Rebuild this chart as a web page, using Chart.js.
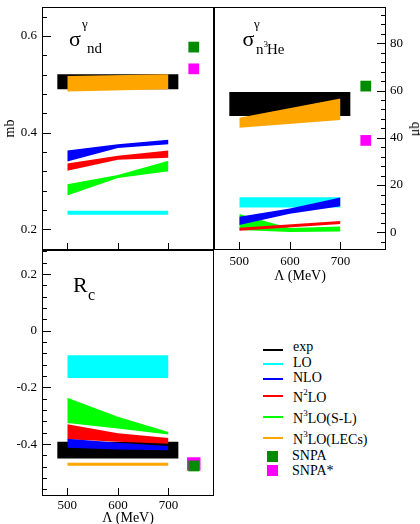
<!DOCTYPE html>
<html>
<head>
<meta charset="utf-8">
<script src="https://cdn.jsdelivr.net/npm/chart.js@4.4.1/dist/chart.umd.min.js"></script>
<style>
  html, body { margin: 0; padding: 0; background: #fff; overflow: hidden; }
  body { width: 420px; height: 524px; position: relative; }
  canvas { position: absolute; }
  .lbl { position: absolute; line-height: 1; font-family: "Liberation Serif", "Times New Roman", serif; white-space: nowrap; color: #000; }
  .lbl .up { position: relative; font-size: 9px; top: -7px; }
  .sw { position: absolute; }
</style>
</head>
<body>
<canvas id="ndChart" width="214" height="251" style="left:0;top:0"></canvas>
<canvas id="heChart" width="220" height="285" style="left:200px;top:0"></canvas>
<canvas id="rcChart" width="214" height="287" style="left:0;top:240px"></canvas>
<script>
Chart.defaults.font.family = '"Liberation Serif", "Times New Roman", serif';
Chart.defaults.font.size = 13;
Chart.defaults.color = '#000';

// cutoff axis (MeV)
const lambdaMin = 450, lambdaMax = 790;
const lambdaTicks = [500, 600, 700];
const lambda3 = [500, 600, 700];
const lambda2 = [500, 700];
const expSpan = [480, 720];
const snpaLambda = 750;

// sigma(n d), mb
const ndTicks = [0.2, 0.4, 0.6];
const ndExpLow = [0.490, 0.490], ndExpHigh = [0.521, 0.521];
const ndLOLow = [0.230, 0.230], ndLOHigh = [0.238, 0.238];
const ndNLOLow = [0.340, 0.368, 0.376], ndNLOHigh = [0.363, 0.376, 0.385];
const ndN2LOLow = [0.321, 0.344, 0.348], ndN2LOHigh = [0.336, 0.352, 0.363];
const ndN3LOLow = [0.270, 0.306, 0.320], ndN3LOHigh = [0.293, 0.312, 0.342];
const ndLECsLow = [0.485, 0.490], ndLECsHigh = [0.517, 0.521];
const ndSNPA = 0.577, ndSNPAstar = 0.532;

// sigma(n 3He), microbarn
const heTicks = [0, 20, 40, 60, 80];
const heExpLow = [49.2, 49.2], heExpHigh = [59.4, 59.4];
const heLOLow = [10.5, 10.5], heLOHigh = [14.8, 14.8];
const heNLOLow = [3.1, 7.9, 11.0], heNLOHigh = [6.6, 10.1, 14.7];
const heN2LOLow = [0.6, 3.5], heN2LOHigh = [1.9, 4.8];
const heN3LOLow = [1.0, 0.1, 0.3], heN3LOHigh = [7.7, 1.8, 2.4];
const heLECsLow = [44.3, 47.5], heLECsHigh = [48.5, 56.7];
const heSNPA = 61.9, heSNPAstar = 38.9;

// R_c
const rcTicks = [-0.4, -0.2, 0, 0.2];
const rcExpLow = [-0.451, -0.451], rcExpHigh = [-0.392, -0.392];
const rcLOLow = [-0.167, -0.167], rcLOHigh = [-0.086, -0.086];
const rcNLOLow = [-0.413, -0.419, -0.422], rcNLOHigh = [-0.381, -0.395, -0.407];
const rcN2LOLow = [-0.383, -0.392, -0.399], rcN2LOHigh = [-0.330, -0.362, -0.378];
const rcN3LOLow = [-0.325, -0.345, -0.366], rcN3LOHigh = [-0.236, -0.303, -0.357];
const rcLECsLow = [-0.476, -0.476], rcLECsHigh = [-0.466, -0.466];
const rcSNPA = -0.477, rcSNPAstar = -0.470;

const cExp = '#000000', cLO = '#00ffff', cNLO = '#0000ff', cN2LO = '#ff0000';
const cN3LO = '#00ff00', cLECs = '#ffa500', cSNPA = '#008b00', cSNPAstar = '#ff00ff';

const legendLabels = ['exp', 'LO', 'NLO', 'N<span class="up">2</span>LO', 'N<span class="up">3</span>LO(S-L)',
  'N<span class="up">3</span>LO(LECs)', 'SNPA', 'SNPA*'];
const legendColors = [cExp, cLO, cNLO, cN2LO, cN3LO, cLECs, cSNPA, cSNPAstar];

// band = lower edge + upper edge filled down to it
function band(xs, low, high, color, order) {
  const pts = ys => xs.map((x, i) => ({ x, y: ys[i] }));
  const base = { borderWidth: 0, pointRadius: 0, order };
  return [
    { ...base, data: pts(low), fill: false },
    { ...base, data: pts(high), fill: '-1', backgroundColor: color }
  ];
}

function marker(y, color, radius, order) {
  return { data: [{ x: snpaLambda, y }], showLine: false, pointStyle: 'rect', pointRadius: radius,
    backgroundColor: color, borderWidth: 0, order };
}

// frame box with inward ticks, xmgrace style
const frame = {
  id: 'frame',
  afterDatasetsDraw(chart, args, opts) {
    const { ctx, chartArea: a } = chart;
    ctx.save();
    ctx.strokeStyle = '#000';
    ctx.lineWidth = 1;
    ctx.strokeRect(a.left + 0.5, a.top + 0.5, a.right - a.left - 1, a.bottom - a.top - 1);
    ctx.beginPath();
    (opts.edges || []).forEach(e => {
      const s = chart.scales[e.scale];
      const step = e.minor || e.major;
      for (let k = Math.ceil(s.min / step - 1e-9); k * step <= s.max + 1e-9; k++) {
        const v = k * step;
        const r = v / e.major;
        const len = Math.abs(r - Math.round(r)) < 1e-6 ? e.len[0] : e.len[1];
        const p = Math.round(s.getPixelForValue(v)) + 0.5;
        if (e.side === 'left') { ctx.moveTo(a.left, p); ctx.lineTo(a.left + len, p); }
        if (e.side === 'right') { ctx.moveTo(a.right, p); ctx.lineTo(a.right - len, p); }
        if (e.side === 'bottom') { ctx.moveTo(p, a.bottom); ctx.lineTo(p, a.bottom - len); }
      }
    });
    ctx.stroke();
    ctx.restore();
  }
};

function sized(prop, value) {
  return scale => {
    scale[prop] = value;
    scale.paddingLeft = scale.paddingRight = scale.paddingTop = scale.paddingBottom = 0;
  };
}

function fixedTicks(values) {
  return scale => { scale.ticks = values.map(value => ({ value })); };
}

const bare = { grid: { display: false, drawTicks: false }, border: { display: false } };

function xAxis(showLabels, height, pad) {
  return {
    type: 'linear', min: lambdaMin, max: lambdaMax, ...bare,
    afterBuildTicks: fixedTicks(lambdaTicks),
    ticks: { display: showLabels, padding: pad, maxRotation: 0, autoSkip: false, callback: v => String(v) },
    title: { display: showLabels, text: 'Λ (MeV)', font: { size: 14 }, padding: 0 },
    afterFit: sized('height', height)
  };
}

function yAxis(position, min, max, labels, width, title) {
  return {
    type: 'linear', position, min, max, ...bare,
    afterBuildTicks: fixedTicks(labels),
    ticks: { padding: position === 'left' ? 5 : 4, autoSkip: false, callback: v => String(v) },
    title: { display: !!title, text: title || '', font: { size: 14 }, padding: { top: 2, bottom: 0 } },
    afterFit: sized('width', width)
  };
}

function makeChart(id, datasets, padding, scales, edges) {
  return new Chart(document.getElementById(id), {
    type: 'line',
    data: { datasets },
    options: {
      responsive: false, animation: false, events: [],
      layout: { padding, autoPadding: false },
      plugins: { legend: { display: false }, tooltip: { enabled: false }, frame: { edges } },
      scales
    },
    plugins: [frame]
  });
}

makeChart('ndChart', [
  ...band(expSpan, ndExpLow, ndExpHigh, cExp, 8),
  ...band(lambda2, ndLOLow, ndLOHigh, cLO, 7),
  ...band(lambda3, ndN3LOLow, ndN3LOHigh, cN3LO, 6),
  ...band(lambda3, ndN2LOLow, ndN2LOHigh, cN2LO, 5),
  ...band(lambda3, ndNLOLow, ndNLOHigh, cNLO, 4),
  ...band(lambda2, ndLECsLow, ndLECsHigh, cLECs, 3),
  marker(ndSNPAstar, cSNPAstar, 7.6, 2),
  marker(ndSNPA, cSNPA, 7.6, 1)
], { top: 7, right: 0, bottom: 1, left: 0 }, {
  x: xAxis(false, 0, 0),
  y: yAxis('left', 0.157, 0.66, ndTicks, 42, 'mb')
}, [
  { scale: 'y', side: 'left', major: 0.2, minor: 0.04, len: [9, 5] },
  { scale: 'x', side: 'bottom', major: 100, len: [7, 4] }
]);

makeChart('heChart', [
  ...band(expSpan, heExpLow, heExpHigh, cExp, 8),
  ...band(lambda2, heLOLow, heLOHigh, cLO, 7),
  ...band(lambda3, heN3LOLow, heN3LOHigh, cN3LO, 6),
  ...band(lambda2, heN2LOLow, heN2LOHigh, cN2LO, 5),
  ...band(lambda3, heNLOLow, heNLOHigh, cNLO, 4),
  ...band(lambda2, heLECsLow, heLECsHigh, cLECs, 3),
  marker(heSNPAstar, cSNPAstar, 7.6, 2),
  marker(heSNPA, cSNPA, 7.6, 1)
], { top: 7, right: 0, bottom: 0, left: 14 }, {
  x: xAxis(true, 35, 4),
  y: yAxis('right', -7.5, 95.4, heTicks, 34, '')
}, [
  { scale: 'y', side: 'right', major: 20, minor: 4, len: [9, 5] },
  { scale: 'x', side: 'bottom', major: 100, len: [8, 4] }
]);

makeChart('rcChart', [
  ...band(expSpan, rcExpLow, rcExpHigh, cExp, 8),
  ...band(lambda2, rcLOLow, rcLOHigh, cLO, 7),
  ...band(lambda3, rcN3LOLow, rcN3LOHigh, cN3LO, 6),
  ...band(lambda3, rcN2LOLow, rcN2LOHigh, cN2LO, 5),
  ...band(lambda3, rcNLOLow, rcNLOHigh, cNLO, 4),
  ...band(lambda2, rcLECsLow, rcLECsHigh, cLECs, 3),
  marker(rcSNPAstar, cSNPAstar, 9.5, 2),
  marker(rcSNPA, cSNPA, 7.6, 1)
], { top: 10, right: 0, bottom: 0, left: 0 }, {
  x: xAxis(true, 31, 2),
  y: yAxis('left', -0.583, 0.285, rcTicks, 42, '')
}, [
  { scale: 'y', side: 'left', major: 0.2, minor: 0.04, len: [9, 5] },
  { scale: 'x', side: 'bottom', major: 100, len: [8, 4] }
]);

// html text: x = left edge, base = baseline y (line-height 1 puts it ~0.84em down)
function text(html, x, base, size) {
  const el = document.createElement('div');
  el.className = 'lbl';
  el.innerHTML = html;
  el.style.left = x + 'px';
  el.style.top = (base - 0.84 * size) + 'px';
  el.style.fontSize = size + 'px';
  document.body.appendChild(el);
  return el;
}

// panel titles
text('σ', 69, 46, 22);
text('γ', 82, 27.5, 13);
text('nd', 87, 53.3, 15);

text('σ', 242.5, 46.7, 22);
text('γ', 254, 27.5, 13);
text('n', 256, 54.3, 15);
text('3', 263.5, 48, 9);
text('He', 267, 54.3, 15);

text('R', 73, 292.7, 22);
text('c', 88, 300.7, 16);

// right axis title, reading bottom to top like the left one
const mu = text('μb', 0, 0, 14);
mu.style.left = '414.5px';
mu.style.top = '128.5px';
mu.style.transform = 'translate(-50%, -50%) rotate(-90deg)';

// legend
const legendBase = [351.7, 367.3, 382.7, 402.7, 423.3, 445, 461, 475.3];
const legendMark = [350, 363.7, 378.7, 395.7, 416.7, 438.3, 456.8, 470.8];
legendLabels.forEach((label, i) => {
  const sw = document.createElement('div');
  sw.className = 'sw';
  sw.style.background = legendColors[i];
  if (i < 6) {
    Object.assign(sw.style, { left: '263px', width: '20px', height: '2px', top: (legendMark[i] - 1) + 'px' });
  } else {
    Object.assign(sw.style, { left: '267px', width: '11px', height: '11px', top: (legendMark[i] - 5.5) + 'px' });
  }
  document.body.appendChild(sw);
  text(label, i < 6 ? 293 : 292, legendBase[i], 14);
});
</script>
</body>
</html>
